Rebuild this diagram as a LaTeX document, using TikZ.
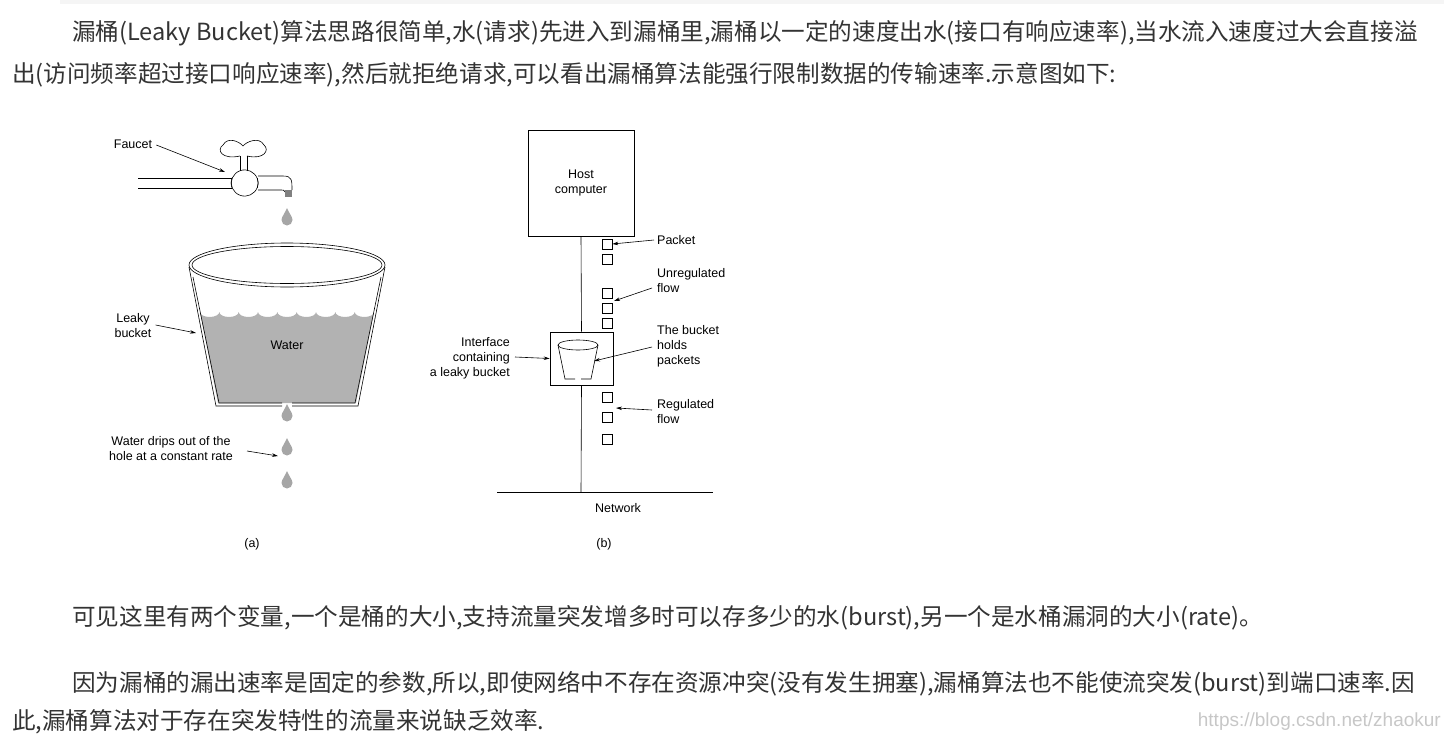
\documentclass[tikz,border=0pt]{standalone}
\usepackage{fontspec}
\setmainfont{Liberation Sans}
\newfontfamily\cjk{Noto Sans CJK SC}
\usetikzlibrary{arrows.meta}
\begin{document}
\begin{tikzpicture}[x=1pt,y=-1pt,
  lbl/.style={font=\fontsize{12.5}{15}\selectfont,align=left,inner sep=0pt},
  para/.style={font=\cjk\fontsize{23.6}{26}\selectfont,anchor=west,inner sep=0pt,text=black!80},
  arr/.style={-{Stealth[length=6pt,width=3.5pt]},line width=0.6pt},
  pk/.style={draw,line width=0.6pt,minimum size=10pt,inner sep=0pt},
  drop/.style={fill=black!35,draw=none}]
\useasboundingbox (0,0) rectangle (1444,742);
\fill[black!4] (60,0) rectangle (1444,4);
% paragraphs
\node[para] (p1) at (72,33) {漏桶(Leaky Bucket)算法思路很简单,水(请求)先进入到漏桶里,漏桶以一定的速度出水(接口有响应速率),当水流入速度过大会直接溢};
\node[para] (p2) at (12,75) {出(访问频率超过接口响应速率),然后就拒绝请求,可以看出漏桶算法能强行限制数据的传输速率.示意图如下:};
\node[para] (p3) at (72,618) {可见这里有两个变量,一个是桶的大小,支持流量突发增多时可以存多少的水(burst),另一个是水桶漏洞的大小(rate)。};
\node[para] (p4) at (72,684) {因为漏桶的漏出速率是固定的参数,所以,即使网络中不存在资源冲突(没有发生拥塞),漏桶算法也不能使流突发(burst)到端口速率.因};
\node[para] (p5) at (12,722) {此,漏桶算法对于存在突发特性的流量来说缺乏效率.};
\node[font=\fontsize{19}{21}\selectfont,text=black!22,anchor=east,inner sep=0pt] (wm) at (1441,722) {https://blog.csdn.net/zhaokur};
% ---------- (a) ----------
\begin{scope}[line width=0.6pt]
\draw (138,178) -- (232,178);
\draw (138,188) -- (232,188);
\draw (232,178) arc (200:-20:13.5);
\draw (232,188) arc (160:380:13.5);
\draw (258,176) -- (283,176) .. controls (292,176) and (292,180) .. (292,190);
\draw (258,190) -- (278,190) .. controls (284,190) and (285,190) .. (285,192);
\fill[black!50] (285,190) rectangle (292,197);
\draw (240,171) -- (240,156) (247,171) -- (247,156);
\draw (240,156) .. controls (222,160) and (216,150) .. (223,145) .. controls (228,136) and (240,142) .. (243,146)
      .. controls (246,142) and (259,136) .. (264,145) .. controls (270,150) and (264,160) .. (247,156);
\end{scope}
\node[lbl] (faucet) at (133,144) {Faucet};
\coordinate (fa) at (225,172);
\draw[arr] (faucet.east)++(4,1) -- (fa);
% drops
\foreach \y [count=\i] in {216,412,446,479}{
  \fill[drop] (287,\y-8) .. controls (289,\y-3) and (292.5,\y+1) .. (292.5,\y+4) arc (0:180:5.5) .. controls (281.5,\y+1) and (285,\y-3) .. (287,\y-8);
}
% bucket
\fill[black!30] (200,312) \foreach \k in {0,...,8}{ arc (180:0:9.67 and 5)} -- (356,403) -- (218,403) -- cycle;
\begin{scope}[line width=0.6pt]
\draw (287,265) ellipse (98 and 22);
\draw (287,265) ellipse (95 and 18.5);
\draw (189,267) -- (216,406) -- (282,406) (292,406) -- (358,406) -- (385,267);
\draw (193,277) -- (219,403) -- (282,403) (292,403) -- (355,403) -- (381,277);
\end{scope}
\node[lbl] (water) at (287,345) {Water};
\node[lbl,align=center] (leaky) at (133,326) {Leaky\\bucket};
\coordinate (la) at (196,333);
\draw[arr] (leaky.east)++(4,-1) -- (la);
\node[lbl,align=center] (drips) at (171,449) {Water drips out of the\\hole at a constant rate};
\coordinate (da) at (278,456);
\draw[arr] (247,451) -- (da);
\node[lbl] (a) at (252,544) {(a)};
% ---------- (b) ----------
\begin{scope}[line width=0.6pt]
\node[draw,minimum width=106pt,minimum height=106pt,inner sep=0pt,lbl,align=center] (host) at (581,183) {Host\\computer};
\coordinate (n1) at (497,492); \coordinate (n2) at (713,492);
\draw (n1) -- (n2);
\node[draw,minimum width=63pt,minimum height=53pt,inner sep=0pt,fill=white] (iface) at (581.5,358.5) {};
\draw (host.south) -- (iface.north);
\coordinate (nb) at (581,492);
\draw (iface.south) -- (nb);
\draw (578,345) ellipse (20 and 5);
\draw (558,345) -- (565,379) -- (575,379) (581,379) -- (591,379) -- (598,345);
\end{scope}
\node[lbl] (net) at (618,508) {Network};
\node[lbl] (b) at (604,544) {(b)};
\foreach \y [count=\i] in {244,259,293,308,323,397,417,439}{ \node[pk] (q\i) at (607,\y) {}; }
\node[lbl,anchor=west] (packet) at (657,240) {Packet};
\draw[arr] (packet.west)++(-3,0) -- (q1.east);
\node[lbl,anchor=west] (unreg) at (657,281) {Unregulated\\flow};
\coordinate (ua) at (614,301);
\draw[arr] (652,288) -- (ua);
\node[lbl,anchor=west] (holds) at (657,346) {The bucket\\holds\\packets};
\coordinate (ha) at (594,361);
\draw[arr] (652,347) -- (ha);
\node[lbl,align=right,anchor=east] (intf) at (510,358) {Interface\\containing\\a leaky bucket};
\draw[arr] (515,357) -- (iface.west);
\node[lbl,anchor=west] (reg) at (657,412) {Regulated\\flow};
\coordinate (ra) at (616,408);
\draw[arr] (652,410) -- (ra);
\end{tikzpicture}
\end{document}
